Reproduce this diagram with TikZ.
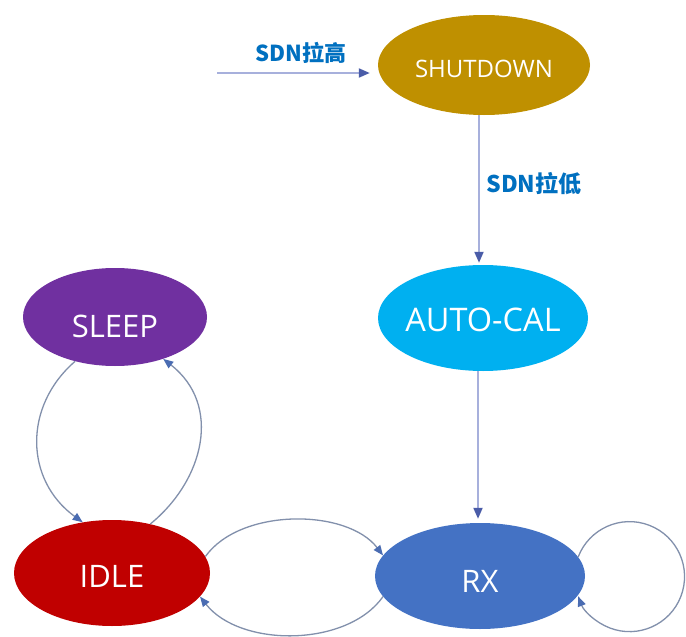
\documentclass[tikz,border=0pt]{standalone}
\usepackage{fontspec}
\setmainfont{Open Sans}
\newfontfamily\cjk{Noto Sans CJK SC}
\usetikzlibrary{shapes.geometric,arrows.meta}
\definecolor{cGold}{HTML}{BF9000}
\definecolor{cCyan}{HTML}{00B0F0}
\definecolor{cPurple}{HTML}{7030A0}
\definecolor{cRed}{HTML}{C00000}
\definecolor{cBlue}{HTML}{4472C4}
\definecolor{cLabel}{HTML}{0070C0}
\definecolor{cLine}{HTML}{A7B0DC}
\definecolor{cTip}{HTML}{4A5CA8}
\definecolor{cCurve}{HTML}{8290AC}
\definecolor{cCtip}{HTML}{4A6CB2}
% text with zero height/depth, lowered by #1 below the node centre line
\newcommand\stt[2][0pt]{\smash{\raisebox{#1}{\makebox[0pt]{#2}}}}
\begin{document}
\begin{tikzpicture}[x=1pt,y=-1pt,
  state/.style={ellipse, draw=none, inner sep=0pt, text=white},
  straight/.style={draw=cLine, line width=2pt, -{Triangle[length=11pt,width=9pt,color=cTip]}},
  curve/.style={draw=cCurve, line width=1.3pt, -{Triangle[length=10pt,width=8pt,color=cCtip]}},
  lbl/.style={text=cLabel, font=\cjk\bfseries\fontsize{22}{26}\selectfont}
]
\useasboundingbox (0,0) rectangle (686,637);
\fill[white] (0,0) rectangle (686,637);

\node[state, fill=cGold, minimum width=212, minimum height=100] (shutdown) at (484,65)
  {\fontsize{24}{28}\selectfont\stt[-12.1pt]{SHUTDOWN}};
\node[state, fill=cCyan, minimum width=210, minimum height=106] (autocal) at (483,318)
  {\fontsize{32.5}{38}\selectfont\stt[-13.6pt]{AUTO-CAL}};
\node[state, fill=cPurple, minimum width=184, minimum height=98] (sleep) at (115,317)
  {\fontsize{31}{36}\selectfont\stt[-20pt]{SLEEP}};
\node[state, fill=cRed, minimum width=196, minimum height=106] (idle) at (112,573)
  {\fontsize{31}{36}\selectfont\stt[-14.5pt]{IDLE}};
\node[state, fill=cBlue, minimum width=210, minimum height=106] (rx) at (480,576)
  {\fontsize{31}{36}\selectfont\stt[-16.5pt]{RX}};

% entry arrow
\coordinate (sdin) at (217,73);
\draw[straight, shorten >=8pt] (sdin) -- (sdin -| shutdown.west);
\node[lbl] (lhigh) at (301,53) {SDN拉高};

% shutdown -> autocal
\coordinate (acn) at ([xshift=-4pt]autocal.north);
\draw[straight, shorten >=2pt] (acn |- shutdown.south) -- (acn);
\node[lbl, font=\cjk\bfseries\fontsize{23}{27}\selectfont] (llow) at (534,184) {SDN拉低};

% autocal -> rx
\coordinate (acs) at ([xshift=-5pt]autocal.south);
\draw[straight, shorten >=4pt] (acs) -- (acs |- rx.north);

% sleep <-> idle
\draw[curve] (sleep.228) .. controls +(-52,45) and +(-58,-42) .. (idle.120);
\draw[curve] (idle.52) .. controls +(54,-44) and +(59,46) .. (sleep.-41);

% idle <-> rx
\draw[curve] (idle.10) .. controls +(35,-49) and +(-36,-47) .. (rx.168);
\draw[curve] (rx.192) .. controls +(-36,51) and +(40,51) .. (idle.-15);

% rx self loop
\draw[curve] (rx.11) arc[start angle=-159, end angle=159, radius=55];
\end{tikzpicture}
\end{document}
